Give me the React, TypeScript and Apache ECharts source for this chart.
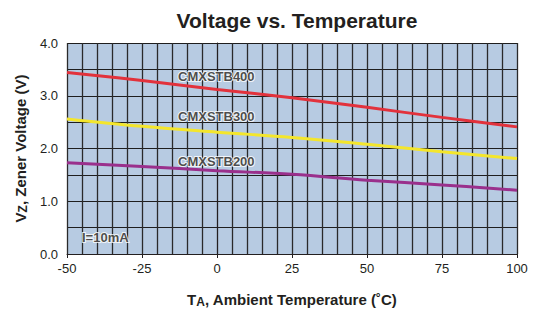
import React, { useEffect, useRef } from "react";
import * as echarts from "echarts";

const temps = [-50, -25, 0, 25, 50, 75, 100];
const cmxstb400 = [3.44, 3.29, 3.12, 2.96, 2.78, 2.59, 2.41];
const cmxstb300 = [2.56, 2.42, 2.31, 2.21, 2.08, 1.94, 1.81];
const cmxstb200 = [1.73, 1.66, 1.58, 1.51, 1.40, 1.31, 1.21];

const seriesNames = ["CMXSTB400", "CMXSTB300", "CMXSTB200"];
const seriesValues = [cmxstb400, cmxstb300, cmxstb200];
const seriesColors = ["#e2323c", "#f4e62c", "#9a308c"];

// annotation texts anchored in data coordinates [temperature, voltage]
const annotations: [number, number, string][] = [
  [-13, 3.37, "CMXSTB400"],
  [-13, 2.6, "CMXSTB300"],
  [-13, 1.76, "CMXSTB200"],
  [-45, 0.32, "I=10mA"],
];

export default function App() {
  const ref = useRef<HTMLDivElement>(null);
  useEffect(() => {
    if (!ref.current) return;
    const chart = echarts.init(ref.current, undefined, { renderer: "svg" });
    const font = "'Liberation Sans', Arial, sans-serif";
    chart.setOption({
      animation: false,
      backgroundColor: "#ffffff",
      title: {
        text: "Voltage vs. Temperature",
        left: 292,
        top: 5,
        textAlign: "center",
        textStyle: { fontFamily: font, fontSize: 21, fontWeight: "bold", color: "#231f20" },
      },
      grid: { left: 67, right: 17, top: 43, bottom: 59, backgroundColor: "#b7cbe2", show: true, borderWidth: 0 },
      xAxis: {
        type: "value",
        min: -50,
        max: 100,
        interval: 25,
        axisLine: { show: true, onZero: false, lineStyle: { color: "#231f20", width: 1 } },
        axisTick: { show: true, length: 4, lineStyle: { color: "#231f20" } },
        axisLabel: { fontFamily: font, fontSize: 13, color: "#231f20", margin: 8 },
        splitLine: { show: true, lineStyle: { color: "#2a2a2a", width: 1.3 } },
        minorTick: { show: false, splitNumber: 5 },
        minorSplitLine: { show: true, lineStyle: { color: "#2a2a2a", width: 1.3 } },
        name: "{b|T}{s|A}{b|, Ambient Temperature (˚C)}",
        nameLocation: "middle",
        nameGap: 36,
        nameTextStyle: {
          rich: {
            b: { fontFamily: font, fontSize: 15, fontWeight: "bold", color: "#231f20" },
            s: { fontFamily: font, fontSize: 12, fontWeight: "bold", color: "#231f20", verticalAlign: "bottom", padding: [6, 0, 0, 0] },
          },
        },
      },
      yAxis: {
        type: "value",
        min: 0,
        max: 4,
        interval: 1,
        axisLine: { show: true, lineStyle: { color: "#231f20", width: 1 } },
        axisTick: { show: true, length: 4, lineStyle: { color: "#231f20" } },
        axisLabel: { fontFamily: font, fontSize: 13, color: "#231f20", margin: 9, formatter: (v: number) => v.toFixed(1) },
        splitLine: { show: true, lineStyle: { color: "#1e1e1e", width: 1 } },
        minorTick: { show: false, splitNumber: 2 },
        minorSplitLine: { show: true, lineStyle: { color: "#1e1e1e", width: 1 } },
        name: "{b|V}{s|Z}{b|, Zener Voltage (V)}",
        nameLocation: "middle",
        nameGap: 36,
        nameRotate: 90,
        nameTextStyle: {
          rich: {
            b: { fontFamily: font, fontSize: 15, fontWeight: "bold", color: "#231f20" },
            s: { fontFamily: font, fontSize: 12, fontWeight: "bold", color: "#231f20", verticalAlign: "bottom", padding: [6, 0, 0, 0] },
          },
        },
      },
      series: [
        ...seriesNames.map((n, i) => ({
          name: n,
          type: "line",
          smooth: 0.4,
          symbol: "none",
          data: temps.map((t, j) => [t, seriesValues[i][j]]),
          lineStyle: { color: seriesColors[i], width: 3 },
          z: 3,
        })),
        {
          type: "scatter",
          symbolSize: 0,
          z: 5,
          data: annotations.map((a) => ({ value: [a[0], a[1]], name: a[2] })),
          label: {
            show: true,
            position: "right",
            distance: 0,
            formatter: (p: any) => p.name,
            fontFamily: font,
            fontSize: 13,
            fontWeight: "bold",
            color: "#231f20",
            textBorderColor: "#ffffff",
            textBorderWidth: 2,
          },
        },
      ],
    });
    return () => chart.dispose();
  }, []);
  return <div ref={ref} style={{ width: 534, height: 313, position: "absolute", left: 0, top: 0 }} />;
}
